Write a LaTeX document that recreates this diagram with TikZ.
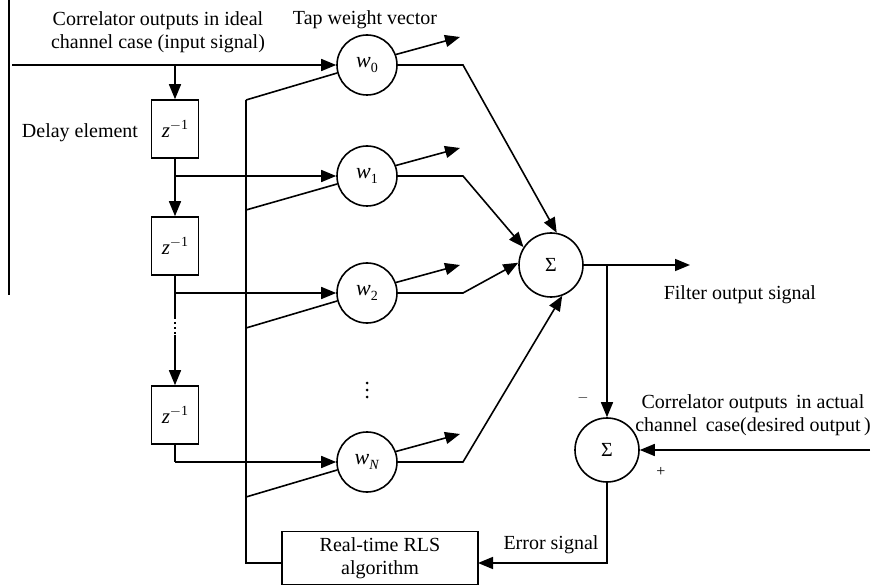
\documentclass[tikz,border=0pt]{standalone}
\usepackage{fontspec}
\setmainfont{Liberation Serif}
\usetikzlibrary{arrows.meta,calc}
\newcommand{\wsub}[1]{\textit{w}\raisebox{-5pt}{\fontsize{14}{15}\selectfont #1}}
\newcommand{\zinv}{\textit{z}\raisebox{8pt}{\fontsize{14}{15}\selectfont $-$1}}
\begin{document}
\begin{tikzpicture}[x=1pt,y=-1pt,
  line width=1.6pt,
  every node/.style={font=\fontsize{20}{23}\selectfont},
  wc/.style={draw,circle,minimum size=60pt,inner sep=0pt,font=\fontsize{22}{24}\selectfont},
  sc/.style={draw,circle,minimum size=64pt,inner sep=0pt,font=\fontsize{20}{24}\selectfont},
  dbox/.style={draw,minimum width=47pt,minimum height=58pt,inner sep=0pt,font=\fontsize{21}{24}\selectfont},
  arr/.style={-{Triangle[length=15pt,width=12pt]}},
  lbl/.style={inner sep=0pt,align=center}]
\useasboundingbox (0,0) rectangle (879,588);
% left border line
\coordinate (b1) at (9,0);
\coordinate (b2) at (9,295);
\draw[line width=1.2pt] (b1) -- (b2);
% weights
\node[wc] (w0) at (367,65) {\wsub{0}};
\node[wc] (w1) at (367,176) {\wsub{1}};
\node[wc] (w2) at (367,293) {\wsub{2}};
\node[wc] (wN) at (367,462) {\wsub{\textit{N}}};
% delays
\node[dbox] (d1) at (175,129) {\zinv};
\node[dbox] (d2) at (175,246) {\zinv};
\node[dbox] (d3) at (175,415) {\zinv};
% sums
\node[sc] (s1) at (551,265) {Σ};
\node[sc] (s2) at (607,450) {Σ};
% RLS
\node[draw,minimum width=196pt,minimum height=53pt,lbl,inner sep=0pt] (rls) at (380,558) {Real-time RLS\\algorithm};
% coordinates
\coordinate (in) at (12,65);
\coordinate (j0) at (175,65);
\coordinate (j1) at (175,176);
\coordinate (j2) at (175,293);
\coordinate (dA) at (175,317);
\coordinate (dB) at (175,335);
\coordinate (j3) at (175,462);
\coordinate (fbT) at (246,100);
\coordinate (fbB) at (246,563);
\coordinate (f0) at (246,100);
\coordinate (f1) at (246,210);
\coordinate (f2) at (246,328);
\coordinate (fN) at (246,497);
\coordinate (o0) at (460,37);
\coordinate (o1) at (460,148);
\coordinate (o2) at (460,265);
\coordinate (oN) at (460,434);
\coordinate (k0) at (463,65);
\coordinate (k1) at (463,176);
\coordinate (k2) at (463,293);
\coordinate (kN) at (463,462);
\coordinate (js) at (607,265);
\coordinate (fout) at (690,265);
\coordinate (des) at (870,450);
\coordinate (eb) at (607,563);
\coordinate (rlsE) at (478,563);
\coordinate (rlsW) at (282,563);
% tapped delay line
\draw[arr] (in) -- (w0);
\draw[arr] (j0) -- (d1);
\draw (d1) -- (j1);
\draw[arr] (j1) -- (w1);
\draw[arr] (j1) -- (d2);
\draw (d2) -- (dA);
\draw[arr] (j2) -- (w2);
\draw[line width=1.6pt,dash pattern=on 2pt off 3pt] (dA) -- (dB);
\draw[arr] (dB) -- (d3);
\draw (d3) -- (j3);
\draw[arr] (j3) -- (wN);
% feedback
\draw (fbT) -- (fbB) -- (rlsW);
\draw (f0) -- (w0.195);
\draw (f1) -- (w1.195);
\draw (f2) -- (w2.195);
\draw (fN) -- (wN.195);
% weight outputs
\draw[arr] (w0.20) -- (o0);
\draw[arr] (w1.20) -- (o1);
\draw[arr] (w2.20) -- (o2);
\draw[arr] (wN.20) -- (oN);
% to sum
\draw[arr] (w0.east) -- (k0) -- (s1.80);
\draw[arr] (w1.east) -- (k1) -- (s1.147);
\draw[arr] (w2.east) -- (k2) -- (s1.176);
\draw[arr] (wN.east) -- (kN) -- (s1.-70);
% outputs
\draw[arr] (s1.east) -- (fout);
\draw[arr] (js) -- (s2);
\draw[arr] (des) -- (s2);
\draw[arr] (s2) -- (eb) -- (rlsE);
% vertical dots
\fill (367,383) circle (1.5pt) (367,390) circle (1.5pt) (367,397) circle (1.5pt);
% labels
\node[lbl] (t1) at (158,32) {Correlator outputs in ideal\\channel case (input signal)};
\node[lbl] (t2) at (365,20) {Tap weight vector};
\node[lbl] (t3) at (80,133) {Delay element};
\node[lbl,anchor=west] (t4) at (663,295) {Filter output signal};
\node[lbl] (t5) at (753,415) {Correlator outputs\, in actual\\channel\, case(desired output\,)};
\node[lbl] (t6) at (551,545) {Error signal};
\node[lbl,font=\fontsize{14}{16}\selectfont] (mi) at (583,398) {$-$};
\node[lbl,font=\fontsize{16}{18}\selectfont] (pl) at (661,472) {+};
\end{tikzpicture}
\end{document}
